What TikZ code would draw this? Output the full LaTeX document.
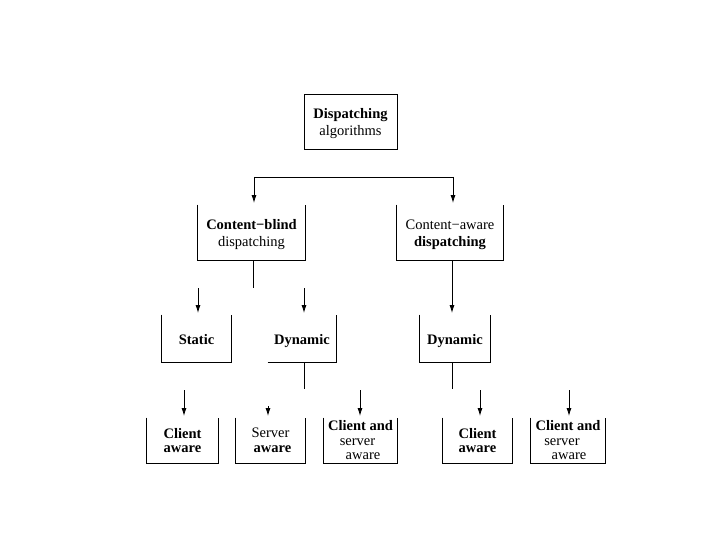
\documentclass[tikz,border=0pt]{standalone}
\usepackage{fontspec}
\setmainfont{Liberation Serif}
\usetikzlibrary{arrows.meta}
\newcommand{\openbox}[1]{\draw (#1.north west) -- (#1.south west) -- (#1.south east) -- (#1.north east);}
\newcommand{\upstrut}{\rule{0pt}{14pt}}
\begin{document}
\begin{tikzpicture}[x=1pt,y=-1pt,line width=0.9pt,
  box/.style={inner sep=0pt, align=center},
  tall/.style={font=\fontsize{14.5}{17.5}\selectfont},
  small/.style={font=\fontsize{14.5}{14.5}\selectfont},
  one/.style={font=\fontsize{14.5}{17.5}\selectfont, text height=14pt, text depth=3pt},
  arr/.style={-{Latex[length=8pt,width=5pt]}, shorten >=1.5pt}]
\useasboundingbox (0,0) rectangle (720,540);
% nodes
\node[box,tall,draw,minimum width=93pt,minimum height=55pt] (top) at (350.5,121.5) {\upstrut\textbf{Dispatching}\\algorithms};
\node[box,tall,minimum width=107pt,minimum height=55pt] (blind) at (251.5,232.5) {\upstrut\textbf{Content−blind}\\dispatching};
\node[box,tall,minimum width=106pt,minimum height=55pt] (aware) at (450,232.5) {\upstrut Content−aware\\\textbf{dispatching}};
\node[box,one,minimum width=69pt,minimum height=47pt] (static) at (196.5,338.5) {\textbf{Static}};
\node[box,one,minimum width=68pt,minimum height=47pt] (dynL) at (302,338.5) {\textbf{Dynamic}};
\node[box,one,minimum width=70pt,minimum height=47pt] (dynR) at (455,338.5) {\textbf{Dynamic}};
\node[box,small,minimum width=71pt,minimum height=45pt] (c1) at (182.5,440.5) {\textbf{Client}\\\textbf{aware}};
\node[box,small,minimum width=69pt,minimum height=45pt] (sv) at (270.5,440.5) {Server\\\rule{4pt}{0pt}\textbf{aware}};
\node[box,small,minimum width=73pt,minimum height=45pt] (cs1) at (360.5,440.5) {\textbf{Client and}\\server\rule{6pt}{0pt}\\\rule{5pt}{0pt}aware};
\node[box,small,minimum width=69pt,minimum height=45pt] (c2) at (477.5,440.5) {\textbf{Client}\\\textbf{aware}};
\node[box,small,minimum width=74pt,minimum height=45pt] (cs2) at (568,440.5) {\textbf{Client and}\\server\rule{12pt}{0pt}\\\rule{2pt}{0pt}aware};
% open boxes
\openbox{blind}
\openbox{aware}
\openbox{static}
\draw (dynL.south west) -- (dynL.south east) -- (dynL.north east);
\openbox{dynR}
\openbox{c1}
\openbox{sv}
\openbox{cs1}
\openbox{c2}
\openbox{cs2}
% connectors
\coordinate (barL) at (254,177);
\coordinate (barR) at (453,177);
\draw (barL) -- (barR);
\draw[arr] (barL) -- (barL |- blind.north);
\draw[arr] (barR) -- (barR |- aware.north);
\coordinate (bstub) at (253,288);
\draw (blind.south -| bstub) -- (bstub);
\coordinate (sA) at (198,288);
\coordinate (dA) at (304,288);
\draw[arr] (sA) -- (sA |- static.north);
\draw[arr] (dA) -- (dA |- dynL.north);
\coordinate (awX) at (452,260);
\draw[arr] (aware.south -| awX) -- (awX |- dynR.north);
\coordinate (s3L) at (304,389);
\coordinate (s3R) at (452,389);
\draw (dynL.south -| s3L) -- (s3L);
\draw (dynR.south -| s3R) -- (s3R);
\coordinate (a1) at (184,390);
\coordinate (a2) at (268,406);
\coordinate (a3) at (360,390);
\coordinate (a4) at (480,390);
\coordinate (a5) at (569,390);
\draw[arr] (a1) -- (a1 |- c1.north);
\draw[arr] (a2) -- (a2 |- sv.north);
\draw[arr] (a3) -- (a3 |- cs1.north);
\draw[arr] (a4) -- (a4 |- c2.north);
\draw[arr] (a5) -- (a5 |- cs2.north);
\end{tikzpicture}
\end{document}
